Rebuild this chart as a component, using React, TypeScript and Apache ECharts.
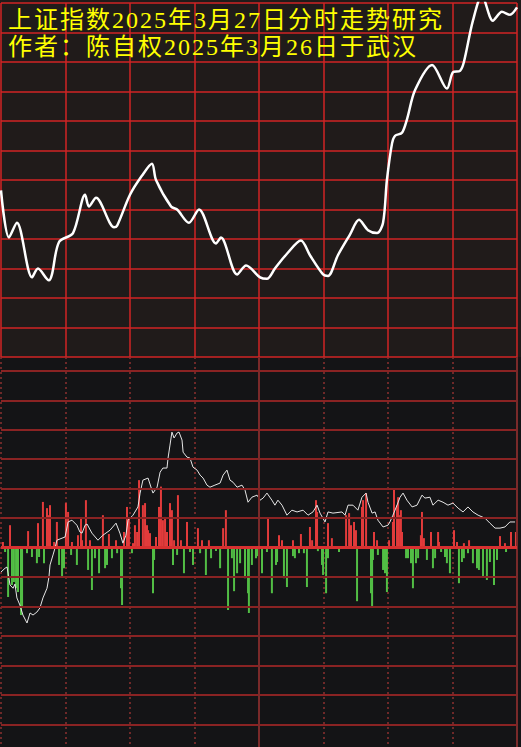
import React, { useEffect, useRef } from 'react';
import * as echarts from 'echarts';

const TITLE_1 = '上证指数2025年3月27日分时走势研究';
const TITLE_2 = '作者：陈自权2025年3月26日于武汉';

const PRICE_MIN = 3356;
const PRICE_MAX = 3380;
const PRICE_STEP = 2;
const MINUTE_MAX = 240;
const MINUTE_STEP = 30;
const IND_MIN = -6.77;
const IND_MAX = 6.47;
const IND_LEVELS = [-6, -5, -4, -3, -2, -1, 1, 2, 3, 4, 5, 6];
const SOLID_MINUTES = [120, 240];

// [minute, index level]
const priceLine: [number, number][] = [
  [0, 3367.3], [3.7, 3364.1], [7.4, 3365.1], [14.4, 3361.4], [17.2, 3362.0], [22.3, 3361.2],
  [23.7, 3361.6], [27.0, 3363.8], [33.5, 3364.4], [39.1, 3367.0], [40.9, 3366.2], [44.2, 3366.8],
  [52.6, 3364.8], [54.0, 3364.9], [60.0, 3367.0], [65.6, 3368.3], [70.2, 3369.1], [72.1, 3368.0],
  [79.1, 3366.2], [81.9, 3366.0], [87.4, 3365.1], [92.1, 3366.0], [100.0, 3363.7], [102.3, 3364.1],
  [109.8, 3361.6], [114.0, 3362.2], [120.5, 3361.4], [123.7, 3361.3], [127.4, 3362.0], [133.0, 3363.0],
  [139.5, 3363.9], [143.7, 3362.9], [149.8, 3361.6], [152.1, 3361.5], [156.7, 3362.9], [162.3, 3364.3],
  [166.5, 3365.3], [170.7, 3364.6], [174.9, 3364.4], [177.7, 3365.1], [179.5, 3368.0], [181.9, 3370.5],
  [183.3, 3371.0], [186.5, 3371.2], [188.8, 3372.1], [192.6, 3374.1], [200.5, 3375.8], [207.4, 3374.2],
  [210.2, 3375.3], [213.5, 3375.4], [215.3, 3376.0], [219.5, 3378.8], [223.7, 3380.5], [228.8, 3378.8],
  [233.0, 3379.4], [236.7, 3379.2], [240, 3379.7],
];

// [minute, indicator]
const indicatorLine: [number, number][] = [
  [0, -0.83], [1.9, -0.7], [2.8, -0.66], [4.2, -1.27], [5.6, -1.38], [6.5, -1.24], [7.4, -1.71],
  [8.8, -1.95], [10.2, -2.29], [12.1, -2.56], [13.5, -2.22], [14.9, -2.29], [16.7, -2.19], [18.1, -2.05],
  [19.5, -1.71], [21.4, -1.38], [22.3, -1.0], [22.8, -0.59], [24.2, -0.25], [25.1, -0.02], [26.0, 0.25],
  [28.4, 0.32], [29.8, 0.36], [31.2, 0.87], [33.0, 0.93], [35.3, 0.76], [36.7, 0.53], [37.7, 0.49],
  [39.1, 0.76], [40.0, 0.8], [42.3, 0.49], [45.1, 0.25], [47.4, 0.42], [50.7, 0.59], [53.5, 0.83],
  [55.3, 0.49], [56.7, 0.15], [58.1, 0.42], [59.1, 0.93], [61.4, 1.1], [63.7, 1.38], [64.7, 1.85],
  [66.0, 2.29], [68.4, 2.36], [70.2, 1.95], [70.7, 1.85], [72.6, 2.05], [74.0, 2.56], [75.3, 2.7],
  [77.2, 2.7], [77.7, 3.04], [78.6, 3.48], [79.5, 3.92], [80.5, 3.72], [81.9, 3.89], [82.8, 3.92],
  [84.2, 3.65], [84.7, 3.24], [86.5, 3.07], [87.9, 3.04], [89.3, 2.73], [91.2, 2.63], [92.6, 2.46],
  [94.0, 2.36], [95.8, 2.12], [97.2, 2.05], [99.5, 2.12], [101.9, 2.19], [103.3, 2.46], [105.1, 2.63],
  [106.5, 2.29], [107.9, 2.22], [109.8, 2.05], [112.1, 2.12], [113.5, 1.95], [114.9, 1.54], [116.7, 1.71],
  [119.1, 1.78], [120.5, 1.61], [121.9, 1.68], [123.7, 1.85], [126.0, 1.61], [127.4, 1.44], [128.8, 1.61],
  [130.7, 1.44], [133.0, 1.1], [135.3, 1.27], [137.7, 1.21], [140.5, 1.27], [142.8, 1.1], [145.1, 1.21],
  [147.0, 1.44], [148.4, 1.17], [150.7, 0.87], [152.1, 1.21], [154.4, 1.17], [158.6, 1.21], [160.0, 1.1],
  [161.4, 1.44], [163.7, 1.44], [166.0, 1.27], [167.9, 1.71], [169.8, 1.85], [170.7, 1.54], [172.6, 1.17],
  [174.0, 1.21], [175.3, 0.93], [177.7, 0.7], [180.0, 0.76], [180.9, 0.87], [182.3, 1.1], [184.2, 1.44],
  [185.6, 1.71], [187.0, 1.85], [188.8, 1.61], [191.2, 1.38], [193.5, 1.44], [195.8, 1.78], [197.2, 1.68],
  [199.5, 1.71], [200.9, 1.44], [203.3, 1.61], [205.6, 1.54], [207.9, 1.44], [210.2, 1.51], [212.6, 1.34],
  [214.9, 1.21], [217.2, 1.38], [219.5, 1.21], [221.9, 1.1], [225.1, 1.0], [227.4, 0.83], [229.8, 0.66],
  [232.1, 0.66], [234.4, 0.7], [236.7, 0.87], [239.1, 0.87],
];

// [minute, positive volume]
const buyBars: [number, number][] = [
  [0.9, 0.19], [4.2, 0.76], [12.6, 0.56], [17.2, 0.83], [19.5, 1.55], [21.4, 1.34], [22.3, 1.1],
  [22.8, 1.44], [24.7, 0.19], [26.0, 0.87], [30.2, 1.51], [31.2, 1.21], [33.0, 0.19], [35.8, 0.42],
  [37.2, 1.0], [37.7, 0.25], [39.5, 1.61], [41.4, 0.25], [47.4, 1.1], [50.2, 0.46], [53.5, 0.25],
  [57.2, 0.53], [58.6, 1.38], [59.5, 1.0], [61.4, 0.15], [62.3, 0.76], [63.3, 0.53], [64.2, 2.29],
  [66.0, 1.44], [67.0, 1.51], [67.9, 0.76], [68.4, 0.59], [69.3, 0.49], [72.1, 0.36], [73.5, 1.38],
  [74.4, 2.07], [75.3, 0.93], [76.3, 1.04], [77.2, 0.53], [78.6, 1.51], [79.5, 1.27], [80.5, 0.25],
  [82.3, 1.78], [83.7, 0.25], [86.5, 0.87], [91.6, 0.66], [93.5, 0.25], [96.7, 0.25], [103.3, 0.66],
  [104.6, 1.27], [124.2, 1.0], [129.3, 0.42], [130.7, 0.25], [135.8, 0.25], [139.5, 0.46], [143.7, 0.7],
  [144.7, 0.25], [146.5, 1.61], [147.0, 1.21], [152.1, 0.83], [153.9, 0.32], [160.5, 1.1], [161.9, 1.17],
  [162.8, 0.76], [164.2, 0.87], [165.1, 0.59], [167.9, 1.38], [168.4, 1.61], [169.8, 1.85], [173.5, 0.53],
  [174.9, 0.25], [180.5, 0.25], [182.3, 0.87], [182.8, 2.02], [184.2, 1.44], [184.7, 1.71], [185.1, 1.1],
  [186.0, 1.27], [186.5, 0.53], [195.3, 0.42], [195.8, 1.21], [196.7, 0.32], [200.0, 0.53], [203.3, 0.53],
  [203.7, 0.19], [210.7, 0.59], [212.1, 0.19], [215.3, 0.15], [217.7, 0.25], [232.1, 0.39], [234.4, 0.15],
  [237.2, 0.53], [239.5, 0.53],
];

// [minute, negative volume]
const sellBars: [number, number][] = [
  [1.9, -0.15], [3.3, -1.68], [5.1, -1.27], [6.0, -1.17], [7.0, -1.38], [7.9, -1.51], [9.3, -2.29],
  [9.8, -2.05], [12.1, -0.19], [14.4, -0.32], [16.7, -0.53], [17.7, -0.32], [20.0, -0.53], [27.0, -0.59],
  [28.4, -1.0], [29.3, -0.7], [32.6, -0.25], [35.3, -0.59], [40.5, -0.76], [42.3, -1.44], [43.7, -0.36],
  [45.6, -0.87], [48.4, -0.7], [49.3, -0.59], [51.6, -0.36], [54.0, -0.19], [55.8, -1.38], [56.3, -1.95],
  [60.9, -0.19], [70.7, -1.55], [71.2, -0.42], [80.0, -0.59], [81.9, -0.25], [85.1, -0.87], [87.9, -0.15],
  [89.3, -0.59], [92.6, -0.19], [95.3, -0.93], [97.7, -0.36], [100.0, -0.12], [101.9, -0.7], [105.6, -2.12],
  [107.4, -0.36], [108.4, -1.48], [109.8, -0.87], [111.2, -0.53], [113.5, -1.04], [114.9, -1.55],
  [115.3, -2.22], [116.7, -0.59], [118.6, -0.36], [119.5, -0.29], [121.4, -0.87], [123.7, -0.15],
  [126.0, -1.55], [127.9, -0.59], [128.4, -0.49], [131.6, -1.04], [133.0, -1.34], [135.8, -0.29],
  [136.7, -0.36], [138.6, -0.19], [140.9, -0.19], [142.3, -1.34], [147.4, -0.12], [149.3, -0.59],
  [149.8, -0.93], [151.2, -1.55], [152.1, -0.36], [157.2, -0.15], [165.6, -1.82], [172.1, -1.55],
  [172.6, -2.05], [173.0, -0.42], [175.3, -0.25], [177.7, -0.76], [178.6, -0.87], [179.5, -1.51],
  [188.4, -0.36], [189.3, -0.36], [190.7, -0.53], [191.6, -1.38], [193.0, -0.53], [194.0, -0.36],
  [198.1, -0.42], [200.9, -0.7], [201.9, -0.36], [204.7, -0.15], [206.5, -0.32], [207.4, -0.53],
  [208.8, -0.87], [213.0, -1.21], [214.4, -0.49], [215.3, -0.36], [217.2, -0.19], [219.5, -0.53],
  [221.4, -0.7], [222.3, -0.76], [224.2, -1.0], [226.0, -1.1], [227.4, -0.49], [229.3, -1.27],
  [230.7, -0.42], [234.9, -0.15],
];

const TOP_BG = '#201b1a';
const BOTTOM_BG = '#141416';
const RED = '#e23b3b';
const GREEN = '#52be45';
const YELLOW = '#ffff00';

function richText(s: string) {
  return Array.from(s).map((c) => `{c|${c}}`).join('');
}

export default function App() {
  const ref = useRef<HTMLDivElement>(null);

  useEffect(() => {
    if (!ref.current) return;
    const chart = echarts.init(ref.current, undefined, { renderer: 'svg' });
    const hidden = {
      axisLine: { show: false },
      axisTick: { show: false },
      axisLabel: { show: false },
    };
    const titleRich = {
      c: {
        fontSize: 24,
        fontWeight: 'normal',
        fontFamily: '"Liberation Serif", "Noto Sans CJK SC"',
        color: YELLOW,
        padding: [0, 2, 0, 0],
      },
    };
    const gridLineColor = '#8a2323';
    const noMark = { silent: true, symbol: ['none', 'none'], label: { show: false }, animation: false };
    const option: any = {
      animation: false,
      backgroundColor: new echarts.graphic.LinearGradient(0, 0, 0, 1, [
        { offset: 0, color: TOP_BG },
        { offset: 357 / 747, color: TOP_BG },
        { offset: 357 / 747, color: BOTTOM_BG },
        { offset: 1, color: BOTTOM_BG },
      ]),
      title: [
        { text: richText(TITLE_1), left: 8, top: 8, padding: 0, textStyle: { fontWeight: 'normal', rich: titleRich } },
        { text: richText(TITLE_2), left: 8, top: 35, padding: 0, textStyle: { fontWeight: 'normal', rich: titleRich } },
      ],
      grid: [
        { left: 1, top: 3, width: 516, height: 354 },
        { left: 1, top: 357, width: 516, height: 390 },
      ],
      xAxis: [
        {
          gridIndex: 0, type: 'value', min: 0, max: MINUTE_MAX, interval: MINUTE_STEP, ...hidden,
          splitLine: { show: true, lineStyle: { color: '#d02525', width: 1.5 } },
        },
        {
          gridIndex: 1, type: 'value', min: 0, max: MINUTE_MAX, interval: MINUTE_STEP, ...hidden,
          splitLine: { show: true, lineStyle: { color: '#8c3030', width: 1.5, type: [2, 3] } },
        },
      ],
      yAxis: [
        {
          gridIndex: 0, type: 'value', min: PRICE_MIN, max: PRICE_MAX, interval: PRICE_STEP, ...hidden,
          splitLine: { show: true, lineStyle: { color: '#d02525', width: 1.5 } },
        },
        {
          gridIndex: 1, type: 'value', min: IND_MIN, max: IND_MAX, ...hidden,
          splitLine: { show: false },
        },
      ],
      series: [
        {
          type: 'line',
          xAxisIndex: 0,
          yAxisIndex: 0,
          data: priceLine,
          smooth: 0.3,
          showSymbol: false,
          lineStyle: { color: '#ffffff', width: 2.5 },
          z: 3,
        },
        {
          type: 'bar',
          xAxisIndex: 1,
          yAxisIndex: 1,
          barWidth: 2,
          z: 2,
          data: [...buyBars, ...sellBars],
          itemStyle: {
            color: (p: any) => (p.value[1] >= 0 ? RED : GREEN),
          },
          markLine: {
            ...noMark,
            data: [
              ...IND_LEVELS.map((v) => ({ yAxis: v, lineStyle: { color: gridLineColor, width: 2, type: 'solid' } })),
              ...SOLID_MINUTES.map((m) => ({ xAxis: m, lineStyle: { color: '#7a2a2a', width: 2, type: 'solid' } })),
              { yAxis: 0, lineStyle: { color: '#d83030', width: 3, type: 'solid' } },
            ],
          },
        },
        {
          type: 'line',
          xAxisIndex: 1,
          yAxisIndex: 1,
          data: indicatorLine,
          showSymbol: false,
          lineStyle: { color: '#e6e6e6', width: 1 },
          z: 4,
        },
      ],
    };
    chart.setOption(option);
    return () => chart.dispose();
  }, []);

  return (
    <div
      ref={ref}
      style={{ position: 'fixed', left: 0, top: 0, width: 521, height: 747 }}
    />
  );
}
